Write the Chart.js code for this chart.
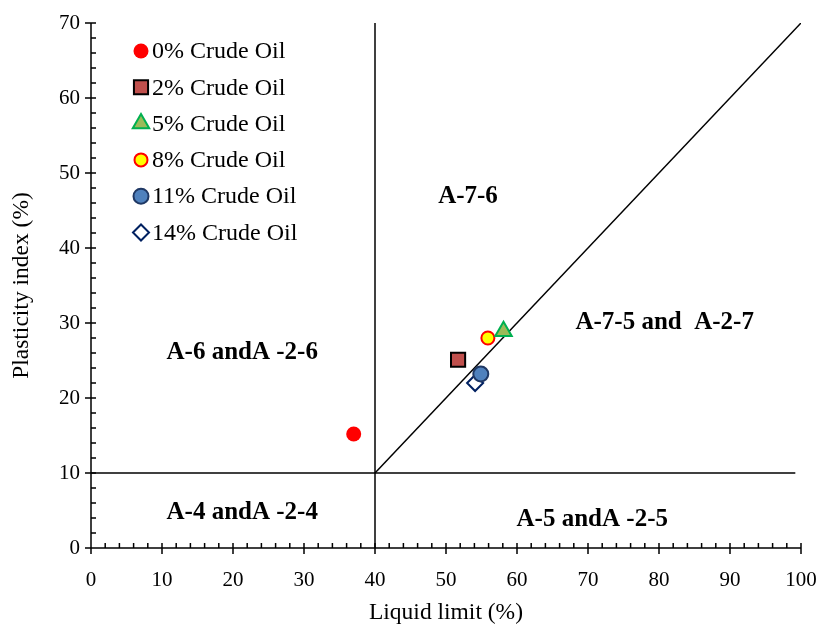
<!DOCTYPE html>
<html>
<head>
<meta charset="utf-8">
<title>AASHTO classification</title>
<script src="https://cdn.jsdelivr.net/npm/chart.js@4.4.1/dist/chart.umd.min.js"></script>
<style>
  html, body { margin: 0; padding: 0; background: #fff; }
  #wrap { width: 819px; height: 628px; }
</style>
</head>
<body>
<div id="wrap"><canvas id="chart" width="819" height="628"></canvas></div>
<script>
// soil samples with increasing crude oil content
const sampleNames = ['0% Crude Oil', '2% Crude Oil', '5% Crude Oil', '8% Crude Oil', '11% Crude Oil', '14% Crude Oil'];
const liquidLimit = [37.0, 51.7, 58.1, 55.9, 54.9, 54.1];
const plasticityIndex = [15.2, 25.1, 28.9, 28.0, 23.2, 22.0];

// AASHTO chart boundaries
const dividerLL = [40, 40];
const dividerPI = [0, 70];
const floorLL = [0, 99.2];
const floorPI = [10, 10];
const aLineLL = [40, 100];
const aLinePI = [10, 70];

const xTicks = [0, 10, 20, 30, 40, 50, 60, 70, 80, 90, 100];
const yTicks = [0, 10, 20, 30, 40, 50, 60, 70];

const zoneNames = ['A-7-6', 'A-6 andA -2-6', 'A-7-5 and  A-2-7', 'A-4 andA -2-4', 'A-5 andA -2-5'];

const markerStyles = [
  { pointStyle: 'circle',   radius: 7.5, bg: '#ff0000', border: '#ff0000', bw: 0 },
  { pointStyle: 'rect',     radius: 10,  bg: '#c0504d', border: '#000000', bw: 2 },
  { pointStyle: 'triangle', radius: 9.5, bg: '#9bbb59', border: '#00b050', bw: 2 },
  { pointStyle: 'circle',   radius: 6.5, bg: '#ffff00', border: '#ff0000', bw: 2 },
  { pointStyle: 'circle',   radius: 7.5, bg: '#4f81bd', border: '#1f3864', bw: 2 },
  { pointStyle: 'rectRot',  radius: 8,   bg: '#ffffff', border: '#002060', bw: 2 }
];

const serif = 'Liberation Serif';

const pairs = (xs, ys) => xs.map((x, i) => ({ x: x, y: ys[i] }));

const sampleSets = sampleNames.map((name, i) => {
  const m = markerStyles[i];
  return {
    label: name,
    data: [{ x: liquidLimit[i], y: plasticityIndex[i] }],
    pointStyle: m.pointStyle,
    pointRadius: m.radius,
    pointBackgroundColor: m.bg,
    pointBorderColor: m.border,
    pointBorderWidth: m.bw,
    showLine: false,
    order: 1
  };
});

const boundary = (label, xs, ys) => ({
  label: label,
  data: pairs(xs, ys),
  showLine: true,
  borderColor: '#000',
  borderWidth: 1.5,
  pointRadius: 0,
  fill: false,
  order: 10
});

const axisFrame = {
  id: 'axisFrame',
  afterDraw(chart) {
    const ctx = chart.ctx;
    const xs = chart.scales.x, ys = chart.scales.y;
    const a = chart.chartArea;
    ctx.save();
    ctx.strokeStyle = '#000';
    ctx.lineWidth = 1.5;
    ctx.beginPath();
    ctx.moveTo(a.left, a.top);
    ctx.lineTo(a.left, a.bottom);
    ctx.lineTo(a.right, a.bottom);
    // minor ticks every 2 units, pointing inward
    for (let v = 0; v <= 100; v += 2) {
      const px = xs.getPixelForValue(v);
      if (v % 10 === 0) {
        ctx.moveTo(px, a.bottom - 5);
        ctx.lineTo(px, a.bottom + 6);
      } else {
        ctx.moveTo(px, a.bottom);
        ctx.lineTo(px, a.bottom - 5);
      }
    }
    for (let v = 0; v <= 70; v += 2) {
      const py = ys.getPixelForValue(v);
      if (v % 10 === 0) {
        ctx.moveTo(a.left - 6, py);
        ctx.lineTo(a.left + 5, py);
      } else {
        ctx.moveTo(a.left, py);
        ctx.lineTo(a.left + 5, py);
      }
    }
    ctx.stroke();
    ctx.restore();
  }
};

const zoneLabels = {
  id: 'zoneLabels',
  afterDatasetsDraw(chart, args, opts) {
    const ctx = chart.ctx;
    const xs = chart.scales.x, ys = chart.scales.y;
    ctx.save();
    ctx.fillStyle = '#000';
    ctx.font = 'bold 25px "' + serif + '"';
    ctx.textAlign = 'center';
    ctx.textBaseline = 'middle';
    opts.spots.forEach((s, i) => {
      ctx.fillText(zoneNames[i], xs.getPixelForValue(s[0]), ys.getPixelForValue(s[1]));
    });
    ctx.restore();
  }
};

const markerLegend = {
  id: 'markerLegend',
  afterDraw(chart) {
    const ctx = chart.ctx;
    const a = chart.chartArea;
    const x0 = a.left + 50;
    const y0 = a.top + 28;
    const step = 36.3;
    ctx.save();
    ctx.font = '24px "' + serif + '"';
    ctx.textAlign = 'left';
    ctx.textBaseline = 'middle';
    sampleNames.forEach((name, i) => {
      const m = markerStyles[i];
      const y = y0 + i * step;
      ctx.fillStyle = m.bg;
      ctx.strokeStyle = m.border;
      ctx.lineWidth = m.bw;
      Chart.helpers.drawPoint(ctx, {
        pointStyle: m.pointStyle,
        radius: m.radius,
        borderWidth: m.bw,
        rotation: 0
      }, x0, y);
      ctx.fillStyle = '#000';
      ctx.fillText(name, x0 + 11, y + 1);
    });
    ctx.restore();
  }
};

new Chart(document.getElementById('chart'), {
  type: 'scatter',
  data: {
    datasets: sampleSets.concat([
      boundary('LL = 40', dividerLL, dividerPI),
      boundary('PI = 10', floorLL, floorPI),
      boundary('PI = LL - 30', aLineLL, aLinePI)
    ])
  },
  options: {
    responsive: false,
    animation: false,
    layout: { padding: { top: 23, right: 18, left: 0, bottom: 0 } },
    plugins: {
      legend: { display: false },
      tooltip: { enabled: false },
      zoneLabels: {
        spots: [[53.1, 46.8], [21.3, 26.0], [80.8, 30.1], [21.3, 4.7], [70.6, 3.8]]
      }
    },
    scales: {
      x: {
        type: 'linear',
        min: 0, max: 100,
        afterBuildTicks: s => { s.ticks = xTicks.map(v => ({ value: v })); },
        afterFit: s => { s.height = 80; s.paddingLeft = 0; s.paddingRight = 0; },
        grid: { display: false, drawTicks: false },
        border: { display: false },
        ticks: { color: '#000', padding: 20, font: { family: serif, size: 21 } },
        title: {
          display: true, text: 'Liquid limit (%)', color: '#000',
          padding: { top: 0, bottom: 1 },
          font: { family: serif, size: 23.5 }
        }
      },
      y: {
        type: 'linear',
        min: 0, max: 70,
        afterBuildTicks: s => { s.ticks = yTicks.map(v => ({ value: v })); },
        afterFit: s => { s.width = 91; s.paddingTop = 0; s.paddingBottom = 0; },
        grid: { display: false, drawTicks: false },
        border: { display: false },
        ticks: { color: '#000', padding: 11, font: { family: serif, size: 21 } },
        title: {
          display: true, text: 'Plasticity index (%)', color: '#000',
          padding: { top: 8, bottom: 0 },
          font: { family: serif, size: 23.5 }
        }
      }
    }
  },
  plugins: [axisFrame, zoneLabels, markerLegend]
});
</script>
</body>
</html>
